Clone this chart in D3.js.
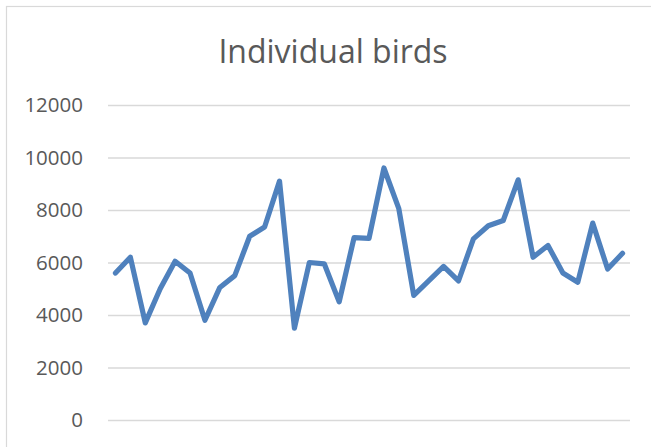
<!DOCTYPE html>
<html>
<head>
<meta charset="utf-8">
<script src="https://cdn.jsdelivr.net/npm/d3@7"></script>
<style>
  html, body { margin: 0; padding: 0; background: #fff; }
  svg { display: block; }
</style>
</head>
<body>
<svg id="chart" width="651" height="447"></svg>
<script>
const title = "Individual birds";
const categories = d3.range(1, 36).map(String);
const values = [5600, 6200, 3700, 5000, 6050, 5600, 3800, 5050, 5500, 7000,
                7350, 9100, 3500, 6000, 5950, 4500, 6950, 6920, 9600, 8050,
                4750, 5300, 5850, 5300, 6900, 7400, 7600, 9150, 6200, 6650,
                5600, 5250, 7500, 5750, 6350];
const yTicks = [0, 2000, 4000, 6000, 8000, 10000, 12000];

const svg = d3.select("#chart");
const W = 651, H = 447;
const plot = { left: 108, right: 630, top: 105, bottom: 420 };

// chart area border (left and top visible)
svg.append("rect")
  .attr("x", 6.5).attr("y", 6.5)
  .attr("width", W + 10).attr("height", H + 10)
  .attr("fill", "#fff").attr("stroke", "#d9d9d9").attr("stroke-width", 1.2);

svg.append("text")
  .attr("x", 333).attr("y", 63)
  .attr("text-anchor", "middle")
  .attr("font-family", "'Open Sans', sans-serif")
  .attr("font-size", 32)
  .attr("fill", "#595959")
  .text(title);

const x = d3.scaleBand().domain(categories).range([plot.left, plot.right]);
const y = d3.scaleLinear().domain([0, 12000]).range([plot.bottom, plot.top]);

const yAxis = d3.axisLeft(y).tickValues(yTicks).tickSize(-(plot.right - plot.left)).tickPadding(25).tickFormat(d3.format("d"));
const gy = svg.append("g").attr("transform", `translate(${plot.left},0)`).call(yAxis);
gy.select(".domain").remove();
gy.selectAll(".tick line").attr("stroke", "#d9d9d9").attr("stroke-width", 1.3);
gy.selectAll(".tick text")
  .attr("font-family", "'Open Sans', sans-serif")
  .attr("font-size", 20.5)
  .attr("fill", "#595959");

const line = d3.line()
  .x((d, i) => x(categories[i]) + x.bandwidth() / 2)
  .y(d => y(d));

svg.append("path")
  .datum(values)
  .attr("d", line)
  .attr("fill", "none")
  .attr("stroke", "#4f81bd")
  .attr("stroke-width", 5.2)
  .attr("stroke-linejoin", "round")
  .attr("stroke-linecap", "round");
</script>
</body>
</html>
